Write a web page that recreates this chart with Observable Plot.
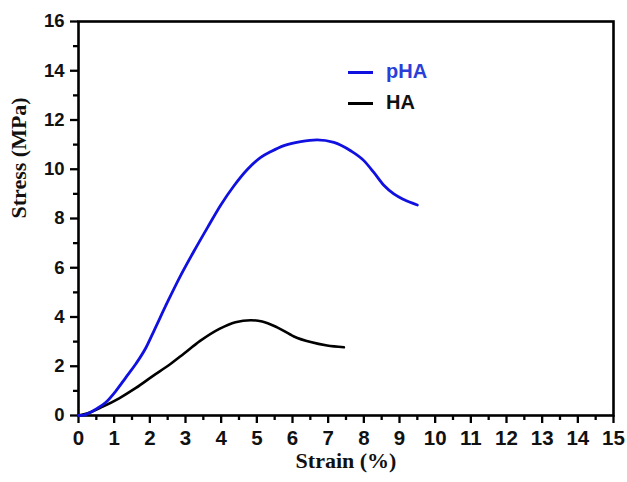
<!DOCTYPE html>
<html>
<head>
<meta charset="utf-8">
<script src="https://cdn.jsdelivr.net/npm/d3@7"></script>
<script src="https://cdn.jsdelivr.net/npm/@observablehq/plot@0.6"></script>
<style>
  html, body { margin: 0; padding: 0; background: #fff; }
  #wrap { position: relative; width: 627px; height: 482px; }
  .leg { position: absolute; left: 348px; font: bold 20px "Liberation Sans", Arial, sans-serif; }
  .leg span.sw { display: inline-block; width: 25px; height: 3px; vertical-align: middle; margin-right: 13px; }
</style>
</head>
<body>
<div id="wrap"></div>
<script>
// Series names and colours
const seriesNames = ["pHA", "HA"];
const seriesColors = ["#1010e0", "#000000"];

// pHA stress-strain curve
const phaStrain = [0, 0.15, 0.5, 0.77, 1.05, 1.33, 1.61, 1.89, 2.12, 2.5, 2.87, 3.24, 3.62, 3.99, 4.36, 4.74, 5.11, 5.4, 5.76, 6.23, 6.69, 7.16, 7.63, 8.0, 8.28, 8.56, 8.84, 9.12, 9.5];
const phaStress = [0, 0.02, 0.27, 0.54, 1.0, 1.55, 2.1, 2.75, 3.45, 4.62, 5.7, 6.68, 7.64, 8.55, 9.33, 10.0, 10.48, 10.72, 10.96, 11.12, 11.19, 11.09, 10.75, 10.35, 9.87, 9.35, 9.0, 8.77, 8.55];

// HA stress-strain curve
const haStrain = [0, 0.21, 0.68, 1.14, 1.61, 2.08, 2.54, 2.96, 3.4, 3.95, 4.4, 4.83, 5.15, 5.57, 6.04, 6.51, 6.97, 7.44];
const haStress = [0, 0.07, 0.36, 0.7, 1.12, 1.6, 2.05, 2.52, 3.02, 3.52, 3.79, 3.87, 3.82, 3.58, 3.21, 2.98, 2.84, 2.77];

// Ticks
const xMajor = d3.range(0, 16, 1);
const xMinor = d3.range(0.5, 15, 1);
const yMajor = d3.range(0, 17, 2);
const yMinor = d3.range(1, 16, 2);

const xLabel = "Strain (%)";
const yLabel = "Stress (MPa)";

const pha = phaStrain.map((x, i) => ({x, y: phaStress[i], s: seriesNames[0]}));
const ha = haStrain.map((x, i) => ({x, y: haStress[i], s: seriesNames[1]}));

const sans = "'Liberation Sans', Arial, sans-serif";
const serif = "'Liberation Serif', 'Times New Roman', serif";

const chart = Plot.plot({
  width: 627,
  height: 482,
  marginLeft: 78,
  marginRight: 14,
  marginTop: 21,
  marginBottom: 67,
  style: {background: "transparent", color: "black", fontWeight: "bold", fontFamily: sans},
  x: {domain: [0, 15]},
  y: {domain: [0, 16]},
  marks: [
    Plot.axisX({ticks: xMajor, tickSize: 8, tickPadding: 7, fontSize: 20.5, fontWeight: "bold", label: null, tickFormat: d3.format("d")}),
    Plot.axisX({ticks: xMinor, tickSize: 5, text: null, label: null}),
    Plot.axisY({ticks: yMajor, tickSize: 8, tickPadding: 6, fontSize: 18.5, fontWeight: "bold", label: null, tickFormat: d3.format("d")}),
    Plot.axisY({ticks: yMinor, tickSize: 5, text: null, label: null}),
    Plot.frame({stroke: "black", strokeWidth: 2.6}),
    Plot.line(ha, {x: "x", y: "y", stroke: seriesColors[1], strokeWidth: 2.6, curve: "monotone-x"}),
    Plot.line(pha, {x: "x", y: "y", stroke: seriesColors[0], strokeWidth: 2.8, curve: "monotone-x"}),
    Plot.text([xLabel], {frameAnchor: "bottom", dy: 52, fontSize: 22, fontWeight: "bold", fontFamily: serif, fill: "#111"}),
    Plot.text([yLabel], {frameAnchor: "left", dx: -60, rotate: -90, fontSize: 22, fontWeight: "bold", fontFamily: serif, fill: "#111"})
  ]
});

const wrap = document.getElementById("wrap");
wrap.appendChild(chart);

// Thicken axis ticks and bold tick labels
d3.select(chart).selectAll("g[aria-label*='axis'] path, g[aria-label*='axis'] line")
  .attr("stroke-width", 2.3).style("stroke-width", "2.3px").style("stroke", "#000");
d3.select(chart).selectAll("g[aria-label*='axis'] text")
  .style("font-weight", "bold").style("fill", "#111");

const legendTops = [60, 91];
seriesNames.forEach((name, i) => {
  const d = document.createElement("div");
  d.className = "leg";
  d.style.top = legendTops[i] + "px";
  d.style.color = i === 0 ? "#2a3fd8" : "#111";
  const sw = document.createElement("span");
  sw.className = "sw";
  sw.style.background = seriesColors[i];
  d.appendChild(sw);
  d.appendChild(document.createTextNode(name));
  wrap.appendChild(d);
});
</script>
</body>
</html>
